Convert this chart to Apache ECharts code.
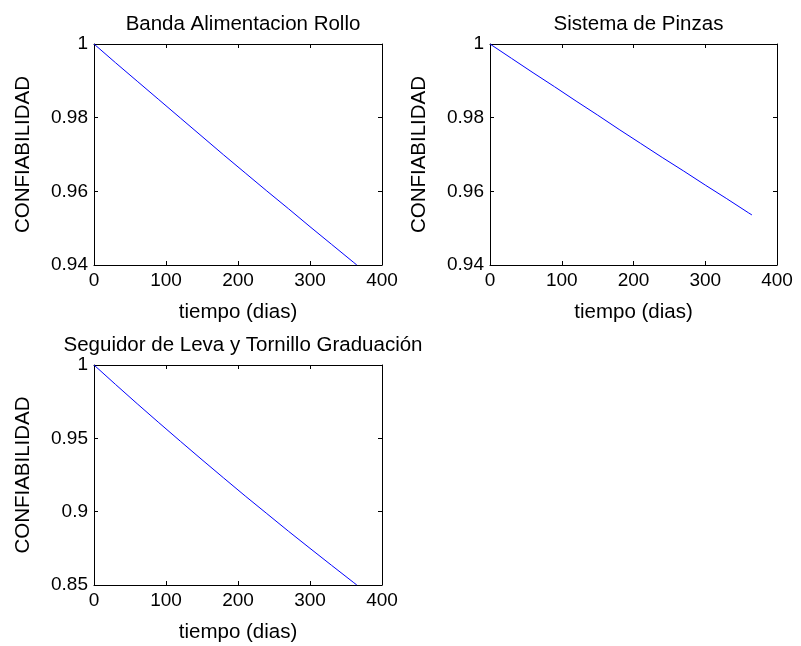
<!DOCTYPE html>
<html>
<head>
<meta charset="utf-8">
<script src="https://cdn.jsdelivr.net/npm/echarts@6/dist/echarts.min.js"></script>
<style>
  html, body { margin: 0; padding: 0; background: #fff; }
  #chart { width: 801px; height: 646px; }
</style>
</head>
<body>
<div id="chart"></div>
<script>
// Reliability curves (CONFIABILIDAD vs tiempo in days) for three subsystems
const dias = [0, 30, 60, 90, 120, 150, 180, 210, 240, 270, 300, 330, 360, 365];

const bandaRollo = [1.0, 0.9949, 0.9899, 0.9849, 0.9799, 0.9749, 0.9699, 0.9650, 0.9601, 0.9553, 0.9504, 0.9456, 0.9408, 0.9400];
const sistemaPinzas = [1.0, 0.9961, 0.9922, 0.9884, 0.9845, 0.9807, 0.9768, 0.9730, 0.9692, 0.9655, 0.9617, 0.9580, 0.9542, 0.9536];
const seguidorLeva = [1.0, 0.9867, 0.9736, 0.9607, 0.9480, 0.9354, 0.9230, 0.9107, 0.8987, 0.8867, 0.8750, 0.8634, 0.8519, 0.8500];

const titulos = ['Banda Alimentacion Rollo', 'Sistema de Pinzas', 'Seguidor de Leva y Tornillo Graduación'];
const xTicks = { min: 0, max: 400, interval: 100 };
const yTicks = [
  { min: 0.94, max: 1, interval: 0.02 },
  { min: 0.94, max: 1, interval: 0.02 },
  { min: 0.85, max: 1, interval: 0.05 }
];
const seriesData = [bandaRollo, sistemaPinzas, seguidorLeva];

const FONT = 'Liberation Sans, Arial, sans-serif';
const grids = [
  { left: 94, top: 44, width: 288, height: 221 },
  { left: 490, top: 44, width: 287, height: 221 },
  { left: 94, top: 365, width: 288, height: 220 }
];

const tickStyle = { show: true, inside: true, length: 4, lineStyle: { color: '#000', width: 1 } };
const axisLineStyle = { show: true, onZero: false, lineStyle: { color: '#000', width: 1 } };
const labelStyle = { color: '#000', fontFamily: FONT, fontSize: 19 };
const nameStyle = { color: '#000', fontFamily: FONT, fontSize: 20.5 };

const xAxes = [], yAxes = [], series = [], titles = [];
grids.forEach((g, i) => {
  // bottom axis with labels
  xAxes.push({
    type: 'value', gridIndex: i, position: 'bottom',
    min: xTicks.min, max: xTicks.max, interval: xTicks.interval,
    axisLine: axisLineStyle, axisTick: tickStyle,
    axisLabel: Object.assign({ margin: 6 }, labelStyle),
    splitLine: { show: false },
    name: 'tiempo (dias)', nameLocation: 'middle', nameGap: 37, nameTextStyle: nameStyle
  });
  // top axis: box edge with ticks only
  xAxes.push({
    type: 'value', gridIndex: i, position: 'top',
    min: xTicks.min, max: xTicks.max, interval: xTicks.interval,
    axisLine: axisLineStyle, axisTick: tickStyle,
    axisLabel: { show: false }, splitLine: { show: false }
  });
  const yt = yTicks[i];
  yAxes.push({
    type: 'value', gridIndex: i, position: 'left',
    min: yt.min, max: yt.max, interval: yt.interval,
    axisLine: axisLineStyle, axisTick: tickStyle,
    axisLabel: Object.assign({ margin: 6, formatter: v => String(+v.toFixed(2)) }, labelStyle),
    splitLine: { show: false },
    name: 'CONFIABILIDAD', nameLocation: 'middle', nameGap: 60, nameTextStyle: nameStyle
  });
  yAxes.push({
    type: 'value', gridIndex: i, position: 'right',
    min: yt.min, max: yt.max, interval: yt.interval,
    axisLine: axisLineStyle, axisTick: tickStyle,
    axisLabel: { show: false }, splitLine: { show: false }
  });
  series.push({
    type: 'line', xAxisIndex: i * 2, yAxisIndex: i * 2,
    data: dias.map((d, k) => [d, seriesData[i][k]]),
    showSymbol: false, symbol: 'none',
    lineStyle: { color: '#0000ff', width: 1 },
    animation: false, silent: true
  });
  titles.push({
    text: titulos[i], left: g.left + g.width / 2, top: g.top - 35,
    textAlign: 'center',
    textStyle: { color: '#000', fontFamily: FONT, fontSize: 20.5, fontWeight: 'normal' }
  });
});

const chart = echarts.init(document.getElementById('chart'), null, { renderer: 'canvas' });
chart.setOption({
  backgroundColor: '#fff',
  animation: false,
  title: titles,
  grid: grids,
  xAxis: xAxes,
  yAxis: yAxes,
  series: series
});
</script>
</body>
</html>
